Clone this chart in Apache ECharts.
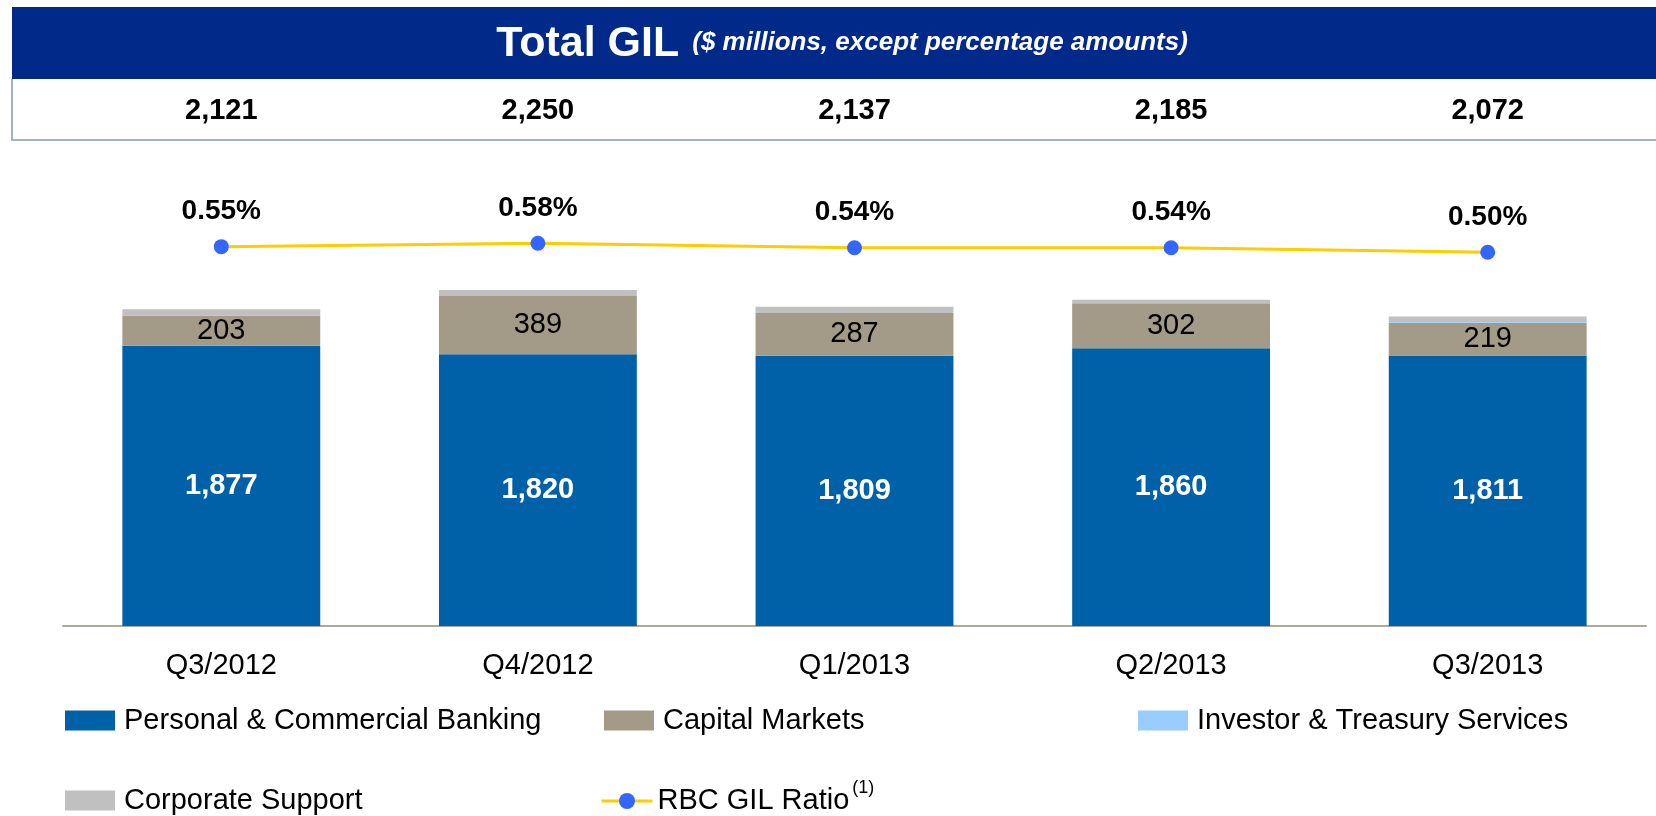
<!DOCTYPE html>
<html>
<head>
<meta charset="utf-8">
<title>Total GIL</title>
<script src="https://cdn.jsdelivr.net/npm/echarts@6/dist/echarts.min.js"></script>
<style>
  html, body { margin: 0; padding: 0; background: #fff; }
  #chart { width: 1656px; height: 816px; }
</style>
</head>
<body>
<div id="chart"></div>
<script>
// data
const quarters = ['Q3/2012', 'Q4/2012', 'Q1/2013', 'Q2/2013', 'Q3/2013']
const totals = [2121, 2250, 2137, 2185, 2072]
const personalCommercial = [1877, 1820, 1809, 1860, 1811]
const capitalMarkets = [203, 389, 287, 302, 219]
const investorTreasury = [0, 0, 0, 0, 5]
const corporateSupport = [41, 41, 41, 23, 37]
const gilRatio = [0.55, 0.58, 0.54, 0.54, 0.50]

const font = '"Liberation Sans", Arial, sans-serif'
const fmt = v => v.toLocaleString('en-US')

let chart = echarts.init(document.getElementById('chart'))

// one legend per entry so each can sit in its own column
function legendAt (name, left, top) {
  return {
    data: [{ name: name, icon: 'rect' }],
    left: left,
    top: top,
    padding: 0,
    itemWidth: 50,
    itemHeight: 20,
    itemGap: 0,
    selectedMode: false,
    textStyle: { fontFamily: font, fontSize: 29, color: '#000', padding: [0, 0, 0, 4] }
  }
}

let option = {
  animation: false,
  textStyle: { fontFamily: font },
  graphic: [
    // title band
    { type: 'rect', shape: { x: 12, y: 7, width: 1660, height: 72 }, style: { fill: '#00298A' }, z: 0 },
    { type: 'line', shape: { x1: 12, y1: 79, x2: 12, y2: 141 }, style: { stroke: '#A3B3C3', lineWidth: 2 } },
    { type: 'line', shape: { x1: 12, y1: 140, x2: 1660, y2: 140 }, style: { stroke: '#A3B3C3', lineWidth: 2 } },
    {
      type: 'text',
      x: 842,
      y: 44,
      style: {
        text: '{a|Total GIL}{b|($ millions, except percentage amounts)}',
        align: 'center',
        verticalAlign: 'middle',
        fill: '#fff',
        rich: {
          a: { fontFamily: font, fontSize: 43, fontWeight: 'bold', fill: '#fff', lineHeight: 46 },
          b: { fontFamily: font, fontSize: 26, fontWeight: 'bold', fontStyle: 'italic', fill: '#fff', lineHeight: 46, padding: [0, 0, 3, 13] }
        }
      }
    }
  ],
  legend: [
    legendAt('Personal & Commercial Banking', 65, 706),
    legendAt('Capital Markets', 604, 706),
    legendAt('Investor & Treasury Services', 1138, 706),
    legendAt('Corporate Support', 65, 786),
    {
      data: ['RBC GIL Ratio'],
      left: 600,
      top: 779,
      padding: 0,
      itemWidth: 51,
      itemHeight: 20,
      selectedMode: false,
      lineStyle: { width: 3 },
      formatter: '{a|RBC GIL Ratio}{sup|(1)}',
      textStyle: {
        fontFamily: font,
        fontSize: 29,
        color: '#000',
        rich: {
          a: { fontFamily: font, fontSize: 29, color: '#000', lineHeight: 44 },
          sup: { fontFamily: font, fontSize: 18, color: '#000', lineHeight: 18, verticalAlign: 'top', padding: [0, 0, 0, 3] }
        }
      }
    }
  ],
  grid: { left: 63, right: 10, top: 178, bottom: 190 },
  xAxis: [
    {
      type: 'category',
      data: quarters,
      axisLine: { lineStyle: { color: '#B0A898', width: 2 } },
      axisTick: { show: false },
      axisLabel: { fontFamily: font, fontSize: 29, color: '#000', margin: 25 }
    },
    {
      // totals row at the top
      type: 'category',
      position: 'top',
      data: totals.map(fmt),
      axisLine: { show: false },
      axisTick: { show: false },
      axisLabel: { fontFamily: font, fontSize: 29, fontWeight: 'bold', color: '#000', margin: 67, verticalAlign: 'middle' }
    }
  ],
  yAxis: [
    { type: 'value', min: 0, max: 3000, show: false },
    { type: 'value', min: -2.82, max: 1.16, show: false }
  ],
  series: [
    {
      name: 'Personal & Commercial Banking',
      type: 'bar',
      stack: 'gil',
      barWidth: '62.5%',
      data: personalCommercial,
      itemStyle: { color: '#0061A8' },
      label: { show: true, position: 'inside', formatter: p => fmt(p.value), fontFamily: font, fontSize: 29, fontWeight: 'bold', color: '#fff' }
    },
    {
      name: 'Capital Markets',
      type: 'bar',
      stack: 'gil',
      data: capitalMarkets,
      itemStyle: { color: '#A39B88' },
      label: { show: true, position: 'inside', fontFamily: font, fontSize: 29, color: '#000' }
    },
    {
      name: 'Investor & Treasury Services',
      type: 'bar',
      stack: 'gil',
      data: investorTreasury,
      itemStyle: { color: '#99CCFF' }
    },
    {
      name: 'Corporate Support',
      type: 'bar',
      stack: 'gil',
      data: corporateSupport,
      itemStyle: { color: '#C0C0C0' }
    },
    {
      name: 'RBC GIL Ratio',
      type: 'line',
      yAxisIndex: 1,
      data: gilRatio,
      symbol: 'circle',
      symbolSize: 15,
      z: 5,
      lineStyle: { color: '#FFCC00', width: 3 },
      itemStyle: { color: '#3366FF' },
      label: {
        show: true,
        position: 'top',
        distance: 14,
        formatter: p => p.value.toFixed(2) + '%',
        fontFamily: font,
        fontSize: 28,
        fontWeight: 'bold',
        color: '#000'
      }
    }
  ]
}

chart.setOption(option)
</script>
</body>
</html>
